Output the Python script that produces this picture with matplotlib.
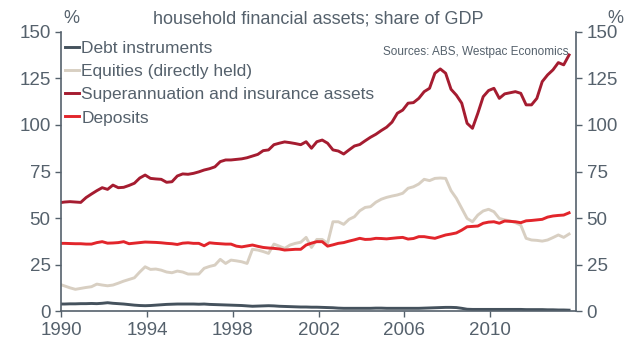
import numpy as np
import matplotlib
matplotlib.use("Agg")
import matplotlib.pyplot as plt

plt.rcParams['font.family'] = ['Liberation Sans', 'DejaVu Sans']

# quarterly, Dec 1989 .. Sep 2013 (share of GDP, %)
debt = [3.8,
        3.8, 3.9, 3.9, 4.0,  4.0, 4.1, 4.0, 4.2,  4.5, 4.2, 4.0, 3.8,  3.5, 3.2, 3.0, 2.9,
        3.0, 3.2, 3.4, 3.6,  3.7, 3.8, 3.8, 3.8,  3.8, 3.7, 3.8, 3.6,  3.5, 3.4, 3.3, 3.2,
        3.1, 3.0, 2.8, 2.6,  2.7, 2.8, 2.9, 2.8,  2.6, 2.5, 2.4, 2.3,  2.2, 2.2, 2.1, 2.1,
        2.0, 1.9, 1.8, 1.6,  1.5, 1.5, 1.5, 1.5,  1.5, 1.5, 1.6, 1.6,  1.5, 1.5, 1.5, 1.5,
        1.5, 1.5, 1.5, 1.6,  1.7, 1.8, 1.9, 2.0,  2.0, 1.9, 1.5, 1.0,  0.9, 0.9, 0.9, 0.9,
        0.9, 0.9, 0.9, 0.9,  0.9, 0.9, 0.8, 0.8,  0.8, 0.8, 0.7, 0.7,  0.6, 0.6, 0.5]
equities = [14.5,
            13.5, 12.5, 11.7, 12.2,  12.7, 13.1, 14.5, 14.0,  13.6, 14.0, 15.0, 16.1,  17.0, 17.9, 21.0, 23.8,
            22.4, 22.6, 22.0, 21.0,  20.6, 21.5, 21.0, 19.9,  19.9, 19.9, 23.0, 24.0,  24.7, 27.8, 25.6, 27.4,
            27.0, 26.5, 25.6, 33.2,  32.8, 32.0, 31.0, 36.0,  34.9, 33.7, 35.5, 36.4,  37.0, 39.6, 34.2, 38.5,
            38.5, 36.4, 48.0, 48.0,  46.6, 49.3, 50.7, 53.9,  55.7, 56.1, 58.5, 60.1,  61.1, 61.8, 62.4, 63.3,
            66.0, 66.8, 68.3, 70.8,  70.1, 71.3, 71.5, 71.3,  64.7, 60.6, 55.2, 49.8,  48.0, 51.6, 53.8, 54.7,
            53.4, 49.8, 49.0, 48.5,  47.5, 46.2, 39.1, 38.2,  38.0, 37.6, 38.2, 39.5,  40.9, 39.6, 41.4]
superann = [58.2,
            58.6, 58.8, 58.6, 58.4,  61.0, 62.9, 64.7, 66.3,  65.4, 67.7, 66.3, 66.5,  67.5, 68.7, 71.5, 73.1,
            71.3, 71.0, 70.8, 69.2,  69.5, 72.6, 73.7, 73.5,  74.0, 74.8, 75.8, 76.5,  77.5, 80.3, 81.2, 81.2,
            81.5, 81.8, 82.4, 83.3,  84.2, 86.2, 86.6, 89.4,  90.2, 90.9, 90.5, 90.0,  89.4, 91.0, 87.5, 91.0,
            91.9, 90.2, 86.6, 86.0,  84.4, 86.6, 88.7, 89.5,  91.5, 93.4, 95.0, 97.0,  98.8, 101.5, 106.3, 108.0,
            111.7, 112.0, 114.3, 117.9,  119.7, 127.8, 130.1, 127.8,  119.2, 116.0, 111.7, 100.9,  98.2, 106.3, 115.2, 118.5,
            119.7, 114.3, 116.7, 117.3,  117.9, 117.0, 110.8, 110.8,  114.3, 123.3, 126.9, 129.6,  133.5, 132.3, 137.6]
deposits = [36.4,
            36.4, 36.3, 36.2, 36.2,  36.0, 36.0, 36.8, 37.3,  36.5, 36.6, 36.8, 37.3,  36.2, 36.5, 36.8, 37.1,
            37.0, 36.9, 36.7, 36.4,  36.2, 35.8, 36.5, 36.7,  36.4, 36.4, 35.1, 36.7,  36.4, 36.2, 36.0, 36.0,
            34.9, 34.5, 35.0, 35.5,  34.8, 34.2, 33.9, 33.7,  33.4, 32.8, 33.0, 33.2,  33.2, 35.5, 36.5, 37.3,
            37.3, 34.9, 35.6, 36.4,  36.8, 37.6, 38.3, 39.1,  38.5, 38.6, 39.1, 39.0,  38.8, 39.1, 39.4, 39.6,
            38.7, 39.0, 40.0, 40.0,  39.5, 39.1, 40.0, 40.9,  41.4, 42.0, 43.5, 45.3,  45.5, 45.7, 47.2, 47.8,
            48.0, 47.2, 48.4, 48.2,  48.0, 47.5, 48.5, 48.7,  49.0, 49.3, 50.5, 51.1,  51.4, 51.6, 52.8]

labels = ["Debt instruments", "Equities (directly held)",
          "Superannuation and insurance assets", "Deposits"]
colors = ["#45525d", "#d8cfc2", "#a51c30", "#e2252b"]
yticks = [0, 25, 50, 75, 100, 125, 150]
xticks = [1990, 1994, 1998, 2002, 2006, 2010]

t = 1989 + 11/12 + 0.25 * np.arange(len(debt))

grey = "#55616c"
fig = plt.figure(figsize=(6.36, 3.43), dpi=100)
ax = fig.add_axes([0.096, 0.093, 0.81, 0.814])

for s, lab, c in zip([debt, equities, superann, deposits], labels, colors):
    ax.plot(t, s, color=c, lw=2.1, label=lab, solid_joinstyle='round')

ax.set_xlim(1990, 2014)
ax.set_ylim(0, 150)
ax.set_xticks(xticks)
ax.set_yticks(yticks)
ax2 = ax.twinx()
ax2.set_ylim(0, 150)
ax2.set_yticks(yticks)

for a in (ax, ax2):
    for side in ("top", "right", "left", "bottom"):
        a.spines[side].set_visible(False)
    a.tick_params(colors=grey, labelsize=13.5, length=4, width=1)
ax.spines["left"].set_visible(True)
ax.spines["bottom"].set_visible(True)
ax2.spines["right"].set_visible(True)
for sp in (ax.spines["left"], ax.spines["bottom"], ax2.spines["right"]):
    sp.set_color(grey)
    sp.set_linewidth(1.2)

ax.legend(loc="upper left", frameon=False, fontsize=12.5, handlelength=0.8,
          handletextpad=0.12, labelspacing=0.47, borderaxespad=0.0, borderpad=0.25,
          labelcolor=grey, bbox_to_anchor=(0.0, 0.985))

fig.text(0.5, 0.945, "household financial assets; share of GDP", ha="center",
         va="center", fontsize=13, color=grey)
fig.text(0.113, 0.945, "%", ha="center", va="center", fontsize=13, color=grey)
fig.text(0.968, 0.945, "%", ha="center", va="center", fontsize=13, color=grey)
ax.text(0.985, 0.928, "Sources: ABS, Westpac Economics", transform=ax.transAxes,
        ha="right", va="center", fontsize=8.5, color=grey)

fig.savefig("out.png", dpi=100)
